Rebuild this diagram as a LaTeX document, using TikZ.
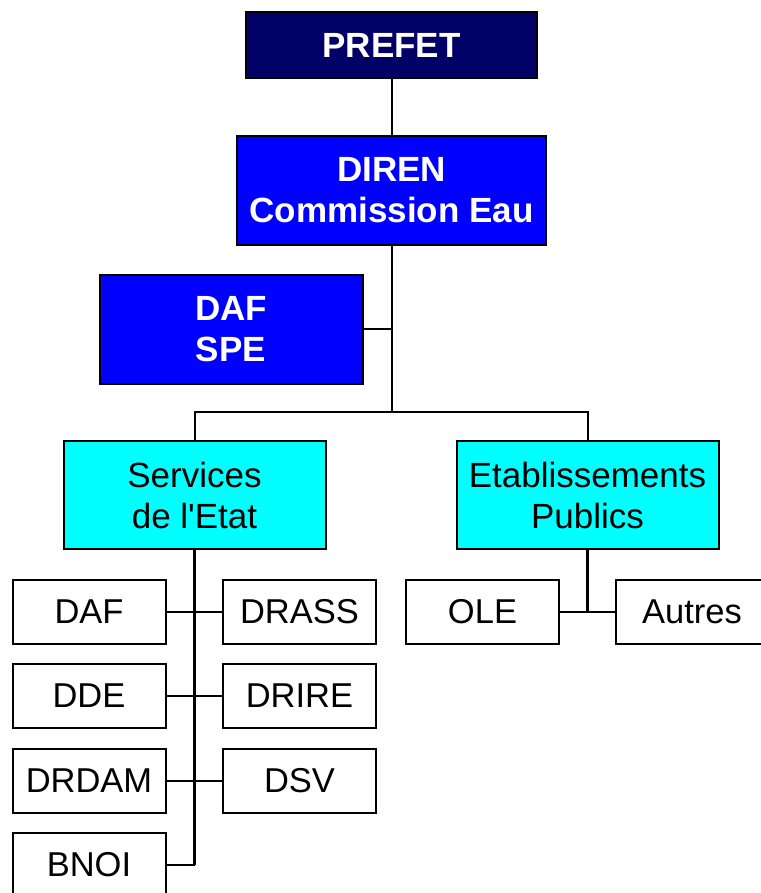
\documentclass[tikz,border=0pt]{standalone}
\usepackage{xcolor}
\usepackage{tikz}
\usepackage{fontspec}
\setmainfont{Liberation Sans}
\definecolor{navy}{RGB}{0,0,102}
\definecolor{vivid}{RGB}{0,0,255}
\definecolor{aqua}{RGB}{0,255,255}

\begin{document}
\begin{tikzpicture}[x=1pt, y=-1pt, line width=2pt,
    head/.style = {draw, fill=navy, text=white, minimum width=291pt, minimum height=66pt, font=\fontsize{35}{41}\selectfont\bfseries},
    top/.style = {draw, fill=vivid, text=white, align=center, minimum height=109pt, font=\fontsize{35}{41}\selectfont\bfseries},
    mid/.style = {draw, fill=aqua, align=center, minimum width=262pt, minimum height=108pt, font=\fontsize{35}{41}\selectfont},
    leaf/.style = {draw, fill=white, minimum width=153pt, minimum height=64pt, font=\fontsize{34.5}{40}\selectfont},
    thk/.style = {line width=3pt}]
    \useasboundingbox (0,0) rectangle (760,893);
    \node[head] (P) at (391.5,45.5) {PREFET};
    \node[top, minimum width=309pt] (D) at (391.5,190.5) {DIREN\\Commission Eau};
    \node[top, minimum width=263pt] (S) at (231,329) {DAF\\SPE};
    \node[mid] (SE) at (194.5,495) {Services\\de l\textquotesingle Etat};
    \node[mid] (EP) at (587.5,495) {Etablissements\\Publics};
    \node[leaf] (DAF) at (89,611.5) {DAF};
    \node[leaf] (DRASS) at (299.5,611.5) {DRASS};
    \node[leaf] (DDE) at (89,696) {DDE};
    \node[leaf] (DRIRE) at (299.5,696) {DRIRE};
    \node[leaf] (DRDAM) at (89,780.5) {DRDAM};
    \node[leaf] (DSV) at (299.5,780.5) {DSV};
    \node[leaf] (BNOI) at (89,864.5) {BNOI};
    \node[leaf] (OLE) at (482.5,611.5) {OLE};
    \node[leaf] (AU) at (692,611.5) {Autres};
    \coordinate (H) at (391.5,412);
    \draw (P) -- (D);
    \draw (D) -- (H);
    \draw (S.east) -- (S.east -| H);
    \draw (SE.north) |- (H) -| (EP.north);
    \draw[thk] (SE.south) -- (SE.south |- BNOI);
    \draw (DAF) -- (DRASS);
    \draw (DDE) -- (DRIRE);
    \draw (DRDAM) -- (DSV);
    \draw (BNOI.east) -- (BNOI -| SE);
    \draw[thk] (EP.south) -- (EP.south |- OLE);
    \draw (OLE) -- (AU);
\end{tikzpicture}
\end{document}
